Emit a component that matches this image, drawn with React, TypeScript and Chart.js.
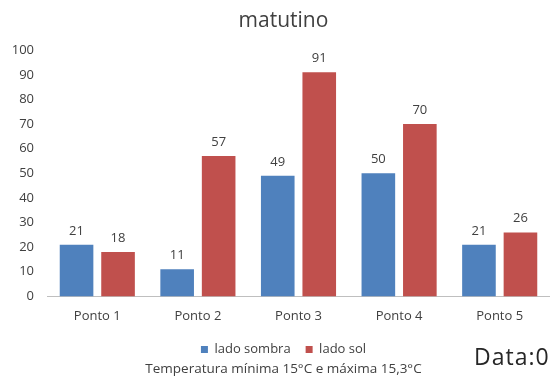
import React, { useEffect, useRef } from "react";
import { Chart, registerables } from "chart.js";

Chart.register(...registerables);

const categories = ["Ponto 1", "Ponto 2", "Ponto 3", "Ponto 4", "Ponto 5"];
const ladoSombra = [21, 11, 49, 50, 21];
const ladoSol = [18, 57, 91, 70, 26];
const seriesNames = ["lado sombra", "lado sol"];
const seriesColors = ["#4f81bd", "#c0504d"];
const titleText = "matutino";
const footerText = "Temperatura mínima 15°C e máxima 15,3°C";
const dateText = "Data:0";

const FONT = "'Open Sans', 'Noto Sans', sans-serif";
const CANVAS_W = 567;
const CANVAS_H = 387;

// Writes each bar's value just above its top edge
const valueLabels = {
  id: "valueLabels",
  afterDatasetsDraw(chart: any) {
    const ctx = chart.ctx;
    ctx.save();
    ctx.font = `13px ${FONT}`;
    ctx.fillStyle = "#404040";
    ctx.textAlign = "center";
    ctx.textBaseline = "alphabetic";
    chart.data.datasets.forEach((ds: any, i: number) => {
      const meta = chart.getDatasetMeta(i);
      meta.data.forEach((bar: any, j: number) => {
        ctx.fillText(String(ds.data[j]), bar.x, bar.y - 10);
      });
    });
    ctx.restore();
  },
};

// The y axis is kept narrow; let its labels spill into the left padding
// instead of being clipped to the axis box.
const yLabelRoom = {
  id: "yLabelRoom",
  afterLayout(chart: any) {
    const y = chart.scales.y;
    if (y) y.left = 0;
  },
};

export default function App() {
  const ref = useRef<HTMLCanvasElement>(null);

  useEffect(() => {
    if (!ref.current) return;
    const chart = new Chart(ref.current, {
      type: "bar",
      data: {
        labels: categories,
        datasets: seriesNames.map((name, i) => ({
          label: name,
          data: i === 0 ? ladoSombra : ladoSol,
          backgroundColor: seriesColors[i],
          categoryPercentage: 0.825,
          barPercentage: 0.81,
        })),
      },
      options: {
        responsive: false,
        animation: false,
        layout: { padding: { left: 17, right: 17, top: 8, bottom: 21 } },
        plugins: {
          title: {
            display: true,
            text: titleText,
            color: "#404040",
            font: { family: FONT, size: 21, weight: "normal" },
            padding: { top: 0, bottom: 17 },
          },
          legend: {
            position: "bottom",
            labels: {
              color: "#404040",
              font: { family: FONT, size: 13 },
              boxWidth: 7,
              boxHeight: 7,
              padding: 15,
            },
          },
          tooltip: { enabled: false },
        },
        scales: {
          x: {
            grid: { display: false },
            border: { display: true, color: "#bfbfbf" },
            ticks: {
              color: "#404040",
              font: { family: FONT, size: 13 },
              padding: 4,
            },
          },
          y: {
            min: 0,
            max: 100,
            grid: { display: false, drawTicks: false },
            border: { display: false },
            afterFit(scale: any) {
              scale.width = 30;
            },
            ticks: {
              stepSize: 10,
              color: "#404040",
              font: { family: FONT, size: 13 },
              padding: 13,
            },
          },
        },
      },
      plugins: [valueLabels, yLabelRoom],
    });
    return () => chart.destroy();
  }, []);

  return (
    <div style={{ position: "fixed", left: 0, top: 0, width: 550, height: 387, background: "#fff", overflow: "hidden" }}>
      <canvas ref={ref} width={CANVAS_W} height={CANVAS_H} style={{ position: "absolute", left: 0, top: 0 }} />
      <div
        style={{
          position: "absolute",
          left: 0,
          width: CANVAS_W,
          top: 359,
          textAlign: "center",
          fontFamily: FONT,
          fontSize: 13.5,
          lineHeight: "18px",
          color: "#404040",
        }}
      >
        {footerText}
      </div>
      <div
        style={{
          position: "absolute",
          left: 474,
          top: 340,
          fontFamily: FONT,
          fontSize: 23,
          lineHeight: "32px",
          letterSpacing: 1,
          color: "#262626",
          whiteSpace: "nowrap",
        }}
      >
        {dateText}
      </div>
    </div>
  );
}
